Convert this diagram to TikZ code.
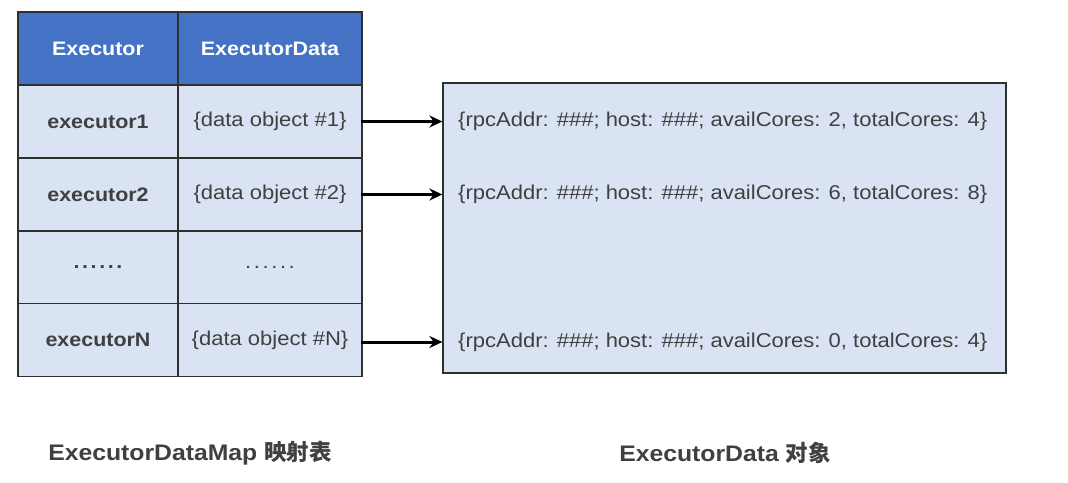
\documentclass[tikz,border=0pt]{standalone}
\usepackage{fontspec}
\setmainfont{Liberation Sans}[FakeStretch=1.1]
\newfontfamily\cjk{Noto Sans CJK SC}
\usetikzlibrary{arrows.meta}
\definecolor{hdr}{HTML}{4472C4}
\definecolor{cellfill}{HTML}{DAE3F3}
\definecolor{txt}{HTML}{404040}
\definecolor{edge}{HTML}{2F2F2F}
\newcommand{\lowtxt}[1]{\raisebox{-2.5pt}{#1}}
\newcommand{\sixdots}{.\hspace{2.6pt}.\hspace{2.6pt}.\hspace{2.6pt}.\hspace{2.6pt}.\hspace{2.6pt}.}
\begin{document}
\begin{tikzpicture}[x=1pt,y=-1pt,
  basecell/.style={draw=edge, line width=1.2pt, minimum height=73pt, inner sep=0pt,
    font=\fontsize{20}{24}\selectfont},
  hcell/.style={basecell, fill=hdr, text=white, font=\fontsize{19.5}{24}\selectfont\bfseries},
  kcell/.style={basecell, fill=cellfill, text=txt, font=\fontsize{19.5}{24}\selectfont\bfseries},
  vcell/.style={basecell, fill=cellfill, text=txt},
  objtext/.style={anchor=west, inner sep=0pt, text=txt, font=\fontsize{20}{24}\selectfont},
  caption/.style={text=txt, inner sep=0pt, font=\fontsize{22.5}{27}\selectfont\bfseries},
  conn/.style={line width=3pt, black, -{Stealth[length=13pt,width=12pt]}}
]
\useasboundingbox[fill=white] (0,0) rectangle (1068,482);
% right object box
\node[draw=edge, line width=1.2pt, fill=cellfill, minimum width=563pt, minimum height=290pt, inner sep=0pt] (obj) at (724.5,228) {};
% table
\node[hcell, minimum width=160pt] (h1) at (98,48.5) {\lowtxt{Executor}};
\node[hcell, minimum width=184pt] (h2) at (270,48.5) {\lowtxt{ExecutorData}};
\node[kcell, minimum width=160pt] (k1) at (98,121.5) {\lowtxt{executor1}};
\node[vcell, minimum width=184pt] (v1) at (270,121.5) {\lowtxt{\{data object \#1\}}};
\node[kcell, minimum width=160pt] (k2) at (98,194.5) {\lowtxt{executor2}};
\node[vcell, minimum width=184pt] (v2) at (270,194.5) {\lowtxt{\{data object \#2\}}};
\node[kcell, minimum width=160pt] (k3) at (98,267.5) {\lowtxt{\sixdots}};
\node[vcell, minimum width=184pt] (v3) at (270,267.5) {\lowtxt{\sixdots}};
\node[kcell, minimum width=160pt] (k4) at (98,340) {\lowtxt{executorN}};
\node[vcell, minimum width=184pt] (v4) at (270,340) {\lowtxt{\{data object \#N\}}};
% object texts
\node[objtext] (o1) at (458,121) {\lowtxt{\{rpcAddr: \#\#\#; host: \#\#\#; availCores: 2, totalCores: 4\}}};
\node[objtext] (o2) at (458,194) {\lowtxt{\{rpcAddr: \#\#\#; host: \#\#\#; availCores: 6, totalCores: 8\}}};
\node[objtext] (o4) at (458,342) {\lowtxt{\{rpcAddr: \#\#\#; host: \#\#\#; availCores: 0, totalCores: 4\}}};
% connectors
\draw[conn] ([xshift=-2pt]v1.east) -- (v1.east -| obj.west);
\draw[conn] ([xshift=-2pt]v2.east) -- (v2.east -| obj.west);
\draw[conn] ([xshift=-2pt]v4.east |- o4.west) -- (o4.west -| obj.west);
% captions
\node[caption] (c1) at (190,453) {ExecutorDataMap {\cjk 映射表}};
\node[caption] (c2) at (725,453) {ExecutorData {\cjk 对象}};
\end{tikzpicture}
\end{document}
